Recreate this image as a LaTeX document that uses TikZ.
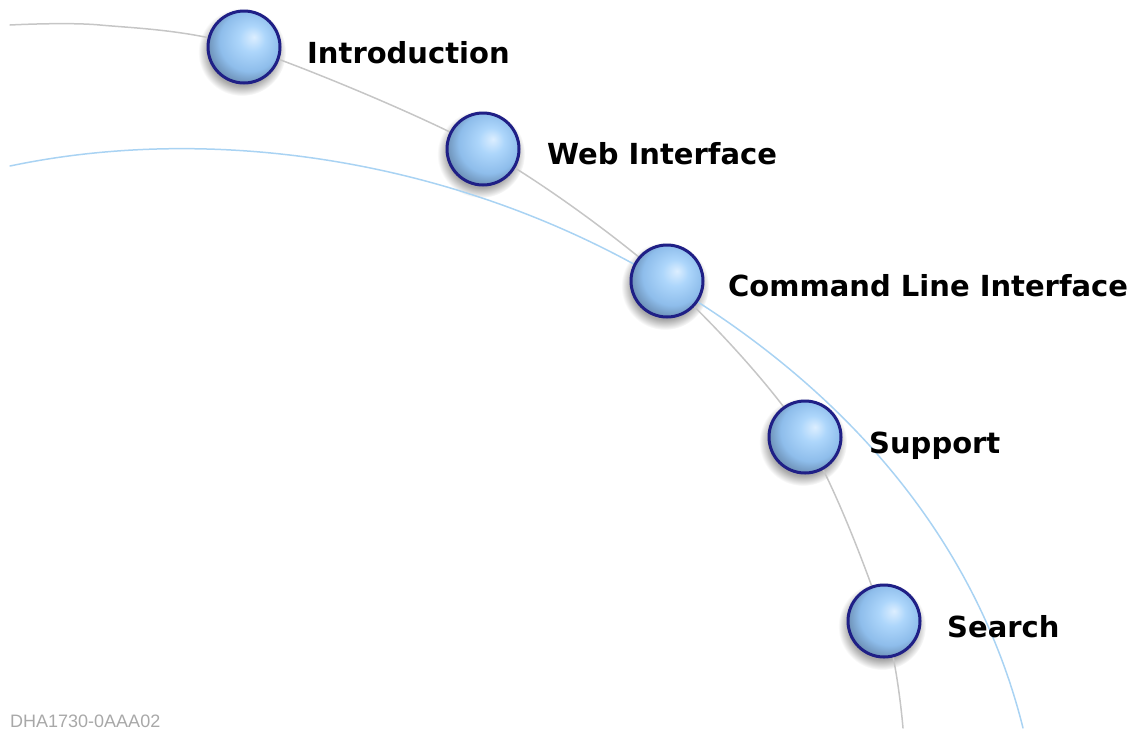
\documentclass[tikz,border=0pt]{standalone}
\usepackage{fontspec}
\setmainfont{DejaVu Sans}
\newfontfamily\codefont{Liberation Sans}
\definecolor{ballborder}{HTML}{1F1F86}
\definecolor{ballA}{HTML}{DCEEFF}
\definecolor{ballB}{HTML}{ADD6FB}
\definecolor{ballC}{HTML}{8EBDEB}
\definecolor{ballD}{HTML}{55708F}
\definecolor{grayline}{HTML}{C6C6C6}
\definecolor{blueline}{HTML}{A9D3F3}
\definecolor{codegray}{HTML}{A8A8A8}
\pgfdeclareradialshading{ballfill}{\pgfpoint{7bp}{7bp}}{color(0bp)=(ballA); color(9bp)=(ballB); color(21bp)=(ballC); color(34bp)=(ballD); color(50bp)=(ballD)}
\pgfdeclareradialshading{ballshade}{\pgfpointorigin}{color(0bp)=(black!38); color(19bp)=(black!34); color(25bp)=(white); color(50bp)=(white)}
\pgfdeclarelayer{shadowlayer}
\pgfdeclarelayer{linelayer}
\pgfsetlayers{shadowlayer,linelayer,main}
\begin{document}
\begin{tikzpicture}[x=1pt,y=-1pt,
  ball/.style={circle, draw=ballborder, line width=3pt, minimum size=72pt, inner sep=0pt, shading=ballfill},
  topic/.style={anchor=base west, inner sep=0pt, font=\bfseries\fontsize{29}{33}\selectfont, text=black},
  orbit/.style={line width=1.5pt, line cap=round}]
\useasboundingbox (0,0) rectangle (1135,740);
\foreach \n/\x/\y in {intro/244/47, web/483/149, cli/667/281, sup/805/437, search/884/621}
  \node[ball] (\n) at (\x,\y) {};
\node[topic] (tintro) at (307,63) {Introduction};
\node[topic] (tweb) at (547,164) {Web Interface};
\node[topic] (tcli) at (728,296) {Command Line Interface};
\node[topic] (tsup) at (869,453) {Support};
\node[topic] (tsearch) at (947,637) {Search};
\node[anchor=base west, inner sep=0pt, text=codegray, font=\codefont\fontsize{18}{21}\selectfont] (code) at (10,727) {DHA1730-0AAA02};
\coordinate (gstart) at (10,25);
\coordinate (gend) at (903,728);
\begin{pgfonlayer}{shadowlayer}
  \foreach \n in {intro, web, cli, sup, search}
    \path[shading=ballshade] ([shift={(-2,5)}]\n.center) circle (44);
\end{pgfonlayer}
\begin{pgfonlayer}{linelayer}
  \draw[orbit, draw=blueline] (10,166) .. controls (200,126) and (430,154) .. (630,262)
                                      .. controls (830,370) and (973,528) .. (1023,728);
  \draw[orbit, draw=grayline] plot[smooth, tension=0.5] coordinates {(gstart) (100,25) (intro.center) (web.center) (cli.center) (sup.center) (search.center) (gend)};
\end{pgfonlayer}
\end{tikzpicture}
\end{document}
